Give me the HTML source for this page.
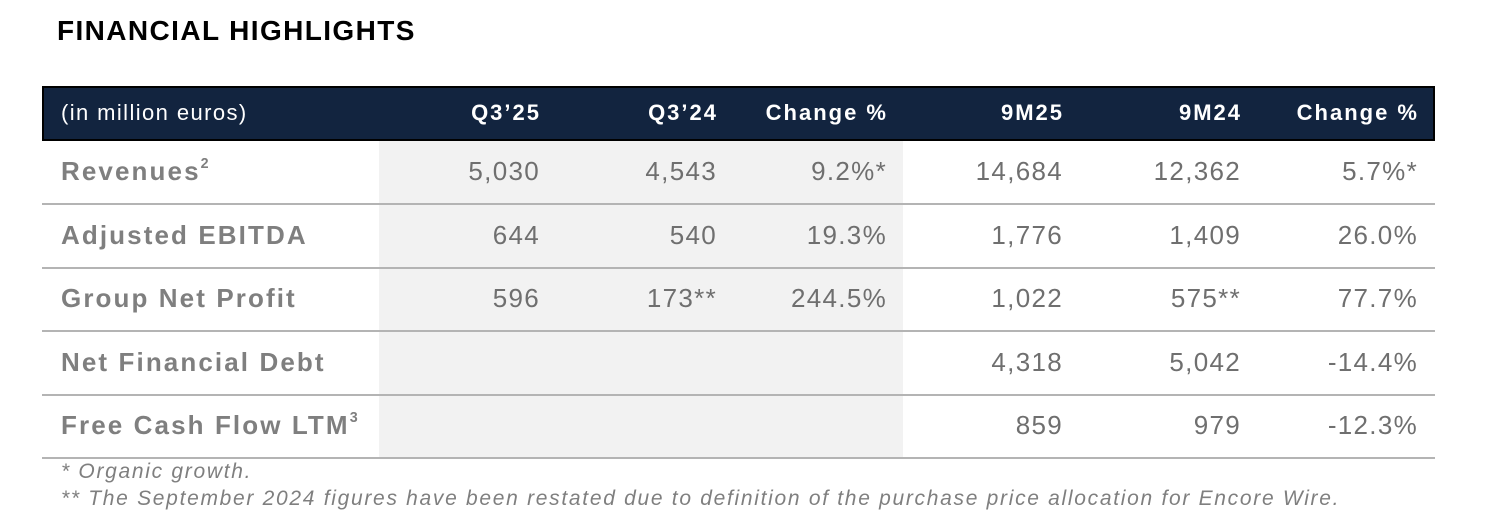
<!DOCTYPE html>
<html><head><meta charset="utf-8"><style>
body{margin:0;width:1492px;height:532px;background:#fff;font-family:"Liberation Sans",sans-serif;position:relative;overflow:hidden}
.a{position:absolute;white-space:nowrap}
.t{left:57px;top:15px;font-size:28px;font-weight:bold;color:#000;letter-spacing:1.4px}
.hd{left:42px;top:86px;width:1389px;height:51px;background:#12243f;border:2px solid #000}
.h{color:#fff;font-size:22px;font-weight:bold;top:100px;letter-spacing:2px}
.sh{left:379px;top:141px;width:524px;height:317px;background:#f2f2f2}
.ln{left:42px;width:1393px;height:2px;background:#b4b4b4}
.l{left:61px;font-size:26px;font-weight:bold;color:#7f7f7f;letter-spacing:2.1px}
.v{font-size:26px;color:#6f6f6f;text-align:right;letter-spacing:1.3px}
.f{left:61px;font-size:21px;font-style:italic;color:#7f7f7f;letter-spacing:1.7px}
sup{font-size:55%;vertical-align:top;position:relative;top:0px;letter-spacing:0}
</style></head><body>
<div class="a t">FINANCIAL HIGHLIGHTS</div>
<div class="a hd"></div>
<div class="a h" style="left:61px;font-weight:normal;letter-spacing:1.4px">(in million euros)</div>
<div class="a h" style="right:951px">Q3’25</div>
<div class="a h" style="right:774px">Q3’24</div>
<div class="a h" style="right:604px">Change %</div>
<div class="a h" style="right:428px">9M25</div>
<div class="a h" style="right:250px">9M24</div>
<div class="a h" style="right:73px">Change %</div>
<div class="a sh"></div>
<div class="a ln" style="top:203px"></div>
<div class="a ln" style="top:267px"></div>
<div class="a ln" style="top:330px"></div>
<div class="a ln" style="top:394px"></div>
<div class="a ln" style="top:457px"></div>

<div class="a l" style="top:156px">Revenues<sup>2</sup></div>
<div class="a v" style="top:156px;right:952px">5,030</div>
<div class="a v" style="top:156px;right:775px">4,543</div>
<div class="a v" style="top:156px;right:605px">9.2%*</div>
<div class="a v" style="top:156px;right:429px">14,684</div>
<div class="a v" style="top:156px;right:251px">12,362</div>
<div class="a v" style="top:156px;right:74px">5.7%*</div>

<div class="a l" style="top:220px">Adjusted EBITDA</div>
<div class="a v" style="top:220px;right:952px">644</div>
<div class="a v" style="top:220px;right:775px">540</div>
<div class="a v" style="top:220px;right:605px">19.3%</div>
<div class="a v" style="top:220px;right:429px">1,776</div>
<div class="a v" style="top:220px;right:251px">1,409</div>
<div class="a v" style="top:220px;right:74px">26.0%</div>

<div class="a l" style="top:283px">Group Net Profit</div>
<div class="a v" style="top:283px;right:952px">596</div>
<div class="a v" style="top:283px;right:775px">173**</div>
<div class="a v" style="top:283px;right:605px">244.5%</div>
<div class="a v" style="top:283px;right:429px">1,022</div>
<div class="a v" style="top:283px;right:251px">575**</div>
<div class="a v" style="top:283px;right:74px">77.7%</div>

<div class="a l" style="top:347px">Net Financial Debt</div>
<div class="a v" style="top:347px;right:429px">4,318</div>
<div class="a v" style="top:347px;right:251px">5,042</div>
<div class="a v" style="top:347px;right:74px">-14.4%</div>

<div class="a l" style="top:410px">Free Cash Flow LTM<sup>3</sup></div>
<div class="a v" style="top:410px;right:429px">859</div>
<div class="a v" style="top:410px;right:251px">979</div>
<div class="a v" style="top:410px;right:74px">-12.3%</div>

<div class="a f" style="top:460px">* Organic growth.</div>
<div class="a f" style="top:487px">** The September 2024 figures have been restated due to definition of the purchase price allocation for Encore Wire.</div>
</body></html>
